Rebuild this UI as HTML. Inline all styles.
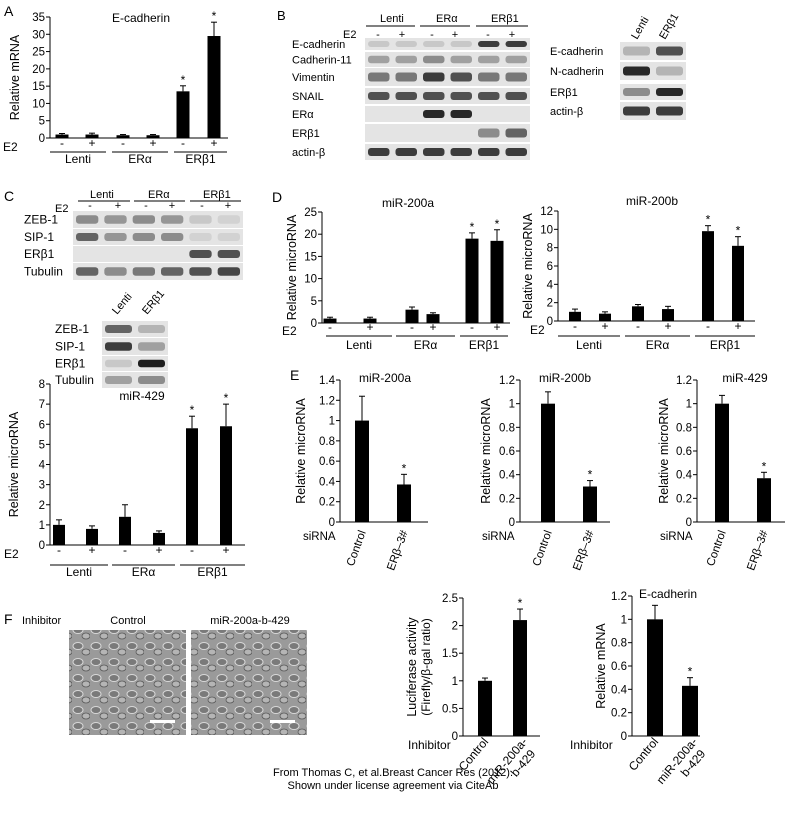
<!DOCTYPE html>
<html><head><meta charset="utf-8"><style>
body{margin:0;background:#fff;}
svg{display:block;font-family:"Liberation Sans",Arial,sans-serif;}
</style></head><body>
<svg id="s" width="787" height="825" viewBox="0 0 787 825" xmlns="http://www.w3.org/2000/svg">
<rect width="787" height="825" fill="#fff"/>
<defs>
<pattern id="cells" width="18" height="16" patternUnits="userSpaceOnUse">
<rect width="18" height="16" fill="#9a9a9a"/>
<ellipse cx="6" cy="6" rx="5" ry="3.5" fill="#7a7a7a" stroke="#d8d8d8" stroke-width="1"/>
<ellipse cx="14" cy="12" rx="4" ry="3" fill="#b5b5b5" stroke="#5a5a5a" stroke-width="0.8"/>
</pattern>
</defs>
<g id="g"></g>
<text x="393" y="776" font-size="11" text-anchor="middle">From Thomas C, et al.Breast Cancer Res (2012).</text>
<text x="393" y="789" font-size="11" text-anchor="middle">Shown under license agreement via CiteAb</text>
</svg>
<script>
const g=document.getElementById('g');let h='';
function T(x,y,t,s,a,extra){h+=`<text x="${x}" y="${y}" font-size="${s||12}" text-anchor="${a||'start'}" ${extra||''}>${t}</text>`;}
function L(x1,y1,x2,y2,w){h+=`<line x1="${x1}" y1="${y1}" x2="${x2}" y2="${y2}" stroke="#000" stroke-width="${w||1}"/>`;}
function chart(o){
 const sc=(o.y0-o.ytop)/o.max;
 L(o.ax,o.ytop,o.ax,o.y0);L(o.ax,o.y0,o.xend,o.y0);
 for(let v=0;v<=o.max+1e-9;v+=o.step){const y=o.y0-v*sc;L(o.ax-4,y,o.ax,y);T(o.ax-5,y+4,(Math.round(v*10)/10),11.5,'end');}
 for(const b of o.bars){const y=o.y0-b[1]*sc;h+=`<rect x="${b[0]-o.bw/2}" y="${y}" width="${o.bw}" height="${o.y0-y}" fill="#000"/>`;
  const ye=y-(b[2]||0)*sc;
  if(b[2]){L(b[0],y,b[0],ye);L(b[0]-3,ye,b[0]+3,ye);}
  if(b[3])T(b[0],ye-2,'*',12,'middle');}
 if(o.title)T(o.tx,o.ty,o.title,12,'middle');
 if(o.ylab)T(0,0,o.ylab,12.5,'middle',`transform="translate(${o.lx},${(o.y0+o.ytop)/2}) rotate(-90)"`);
}
function e2row(xs,y,ylab,x0){T(x0,y+4,'E2',12);xs.forEach((x,i)=>T(x,y,i%2?'+':'-',12,'middle'));}
function groups(gs,y,ly){gs.forEach(gg=>{L(gg[0],ly,gg[1],ly);T((gg[0]+gg[1])/2,y,gg[2],12,'middle');});}
function blot(x,y,w,hh,bands){h+=`<rect x="${x}" y="${y}" width="${w}" height="${hh}" fill="#e4e4e4"/>`;
 const n=bands.length,lw=w/n;bands.forEach((v,i)=>{if(v>0)h+=`<rect x="${x+i*lw+3}" y="${y+hh*0.25}" width="${lw-6}" height="${hh*0.5}" rx="3" fill="rgb(${Math.round(220-200*v)},${Math.round(220-200*v)},${Math.round(220-200*v)})"/>`;});}

// Panel A
T(4,16,'A',14);
chart({ax:50,y0:138,ytop:17,max:35,step:5,xend:228,bw:13,bars:[[62,1,0.3],[92,1,0.4],[123,0.8,0.2],[153,0.8,0.2],[183,13.5,1.6,1],[214,29.5,4,1]],title:'E-cadherin',tx:141,ty:22,ylab:'Relative mRNA',lx:19});
e2row([62,92,123,153,183,214],147,'',3);
groups([[50,106,'Lenti'],[112,168,'ERα'],[174,227,'ERβ1']],163,152);

// Panel B
T(277,20,'B',13);
T(380,22,'Lenti',11);T(436,22,'ERα',11);T(491,22,'ERβ1',11);
L(366,26,415,26);L(420,26,470,26);L(476,26,528,26);
T(343,38,'E2',11);[378,402,432,455,488,512].forEach((x,i)=>T(x,38,i%2?'+':'-',11,'middle'));
const bl=[['E-cadherin',38,12,[0.1,0.1,0.1,0.1,0.8,0.8]],['Cadherin-11',52,15,[0.3,0.3,0.4,0.3,0.3,0.3]],['Vimentin',68,18,[0.5,0.5,0.8,0.7,0.5,0.5]],['SNAIL',88,16,[0.7,0.7,0.7,0.7,0.7,0.7]],['ERα',106,16,[0,0,0.9,0.9,0,0]],['ERβ1',124,18,[0,0,0,0,0.4,0.6]],['actin-β',144,16,[0.8,0.8,0.8,0.8,0.8,0.8]]];
bl.forEach(b=>{T(292,b[1]+b[2]/2+4,b[0],11);blot(365,b[1],165,b[2],b[3]);});
T(637,40,'Lenti',11,'start','transform="rotate(-60 637 40)"');T(665,40,'ERβ1',11,'start','transform="rotate(-60 665 40)"');
[['E-cadherin',42,18,[0.2,0.7]],['N-cadherin',62,18,[0.9,0.2]],['ERβ1',84,16,[0.4,0.9]],['actin-β',102,18,[0.8,0.8]]].forEach(b=>{T(550,b[1]+b[2]/2+4,b[0],11);blot(620,b[1],66,b[2],b[3]);});

// Panel C
T(4,201,'C',14);
T(90,198,'Lenti',11);T(148,198,'ERα',11);T(203,198,'ERβ1',11);
L(78,201,130,201);L(134,201,185,201);L(190,201,241,201);
T(55,212,'E2',11);[90,118,146,172,202,228].forEach((x,i)=>T(x,209,i%2?'+':'-',11,'middle'));
[['ZEB-1',211,17,[0.4,0.35,0.4,0.35,0.1,0.05]],['SIP-1',229,16,[0.6,0.35,0.4,0.4,0.05,0.05]],['ERβ1',246,16,[0,0,0,0,0.7,0.7]],['Tubulin',263,17,[0.6,0.4,0.5,0.6,0.7,0.75]]].forEach(b=>{T(24,b[1]+b[2]/2+4,b[0],12);blot(73,b[1],170,b[2],b[3]);});
T(117,315,'Lenti',11,'start','transform="rotate(-50 117 315)"');T(147,315,'ERβ1',11,'start','transform="rotate(-50 147 315)"');
[['ZEB-1',321,16,[0.6,0.2]],['SIP-1',338,17,[0.8,0.3]],['ERβ1',356,15,[0.1,0.95]],['Tubulin',372,16,[0.3,0.4]]].forEach(b=>{T(55,b[1]+b[2]/2+4,b[0],12);blot(102,b[1],66,b[2],b[3]);});
chart({ax:50,y0:545,ytop:384,max:8,step:1,xend:245,bw:12,bars:[[59,1,0.25],[92,0.8,0.15],[125,1.4,0.6],[159,0.6,0.1],[192,5.8,0.6,1],[226,5.9,1.1,1]],title:'miR-429',tx:142,ty:400,ylab:'Relative microRNA',lx:18});
e2row([59,92,125,159,192,226],554,'',4);
groups([[50,108,'Lenti'],[112,175,'ERα'],[180,245,'ERβ1']],576,565);

// Panel D
T(272,202,'D',14);
chart({ax:322,y0:323,ytop:212,max:25,step:5,xend:510,bw:13,bars:[[330,1,0.3],[370,1,0.3],[412,3,0.6],[433,2,0.3],[472,19,1.3,1],[497,18.5,2.5,1]],title:'miR-200a',tx:408,ty:207,ylab:'Relative microRNA',lx:296});
e2row([330,370,412,433,472,497],331,'',282);
groups([[326,392,'Lenti'],[396,455,'ERα'],[460,508,'ERβ1']],349,336);
chart({ax:558,y0:321,ytop:211,max:12,step:2,xend:755,bw:12,bars:[[575,1,0.3],[605,0.8,0.2],[638,1.6,0.2],[668,1.3,0.3],[708,9.8,0.6,1],[738,8.2,1,1]],title:'miR-200b',tx:652,ty:205,ylab:'Relative microRNA',lx:532});
e2row([575,605,638,668,708,738],330,'',530);
groups([[558,620,'Lenti'],[625,690,'ERα'],[695,755,'ERβ1']],349,336);

// Panel E
T(290,380,'E',14);
chart({ax:340,y0:522,ytop:380,max:1.4,step:0.2,xend:428,bw:14,bars:[[362,1,0.24],[404,0.37,0.1,1]],title:'miR-200a',tx:385,ty:382,ylab:'Relative microRNA',lx:305});
chart({ax:520,y0:522,ytop:380,max:1.2,step:0.2,xend:610,bw:14,bars:[[548,1,0.1],[590,0.3,0.05,1]],title:'miR-200b',tx:565,ty:382,ylab:'Relative microRNA',lx:490});
chart({ax:697,y0:522,ytop:380,max:1.2,step:0.2,xend:785,bw:14,bars:[[722,1,0.07],[764,0.37,0.05,1]],title:'miR-429',tx:745,ty:382,ylab:'Relative microRNA',lx:668});
[[303,362,404],[482,548,590],[660,722,764]].forEach(a=>{T(a[0],540,'siRNA',11.5);T(a[1]+4,532,'Control',11.5,'end','transform="rotate(-70 '+(a[1]+4)+' 532)"');T(a[2]+4,532,'ERβ–3#',11.5,'end','transform="rotate(-70 '+(a[2]+4)+' 532)"');});

// Panel F
T(4,624,'F',14);T(22,624,'Inhibitor',11);T(128,624,'Control',11,'middle');T(250,624,'miR-200a-b-429',11,'middle');
h+='<rect x="69" y="630" width="117" height="105" fill="url(#cells)"/><rect x="191" y="630" width="116" height="105" fill="url(#cells)"/>';
h+='<rect x="150" y="720" width="25" height="3" fill="#fff"/><rect x="270" y="720" width="25" height="3" fill="#fff"/>';
chart({ax:463,y0:736,ytop:598,max:2.5,step:0.5,xend:540,bw:14,bars:[[485,1,0.05],[520,2.1,0.2,1]],ylab:'Luciferase activity',lx:416});
T(0,0,'(Firefly/β-gal ratio)',12,'middle','transform="translate(430,667) rotate(-90)"');
function fl(x0,xc,xm,y){T(x0,y+13,'Inhibitor',12);
 T(xc+4,y+6,'Control',12,'end',`transform="rotate(-50 ${xc+4} ${y+6})"`);
 T(xm+8,y+6,'miR-200a-',12,'end',`transform="rotate(-50 ${xm+8} ${y+6})"`);
 T(xm+16,y+18,'b-429',12,'end',`transform="rotate(-50 ${xm+16} ${y+18})"`);}
fl(408,485,520,736);
chart({ax:632,y0:736,ytop:596,max:1.2,step:0.2,xend:700,bw:16,bars:[[655,1,0.12],[690,0.43,0.07,1]],title:'E-cadherin',tx:668,ty:598,ylab:'Relative mRNA',lx:605});
fl(570,655,690,736);
g.innerHTML=h;
</script>
</body></html>
